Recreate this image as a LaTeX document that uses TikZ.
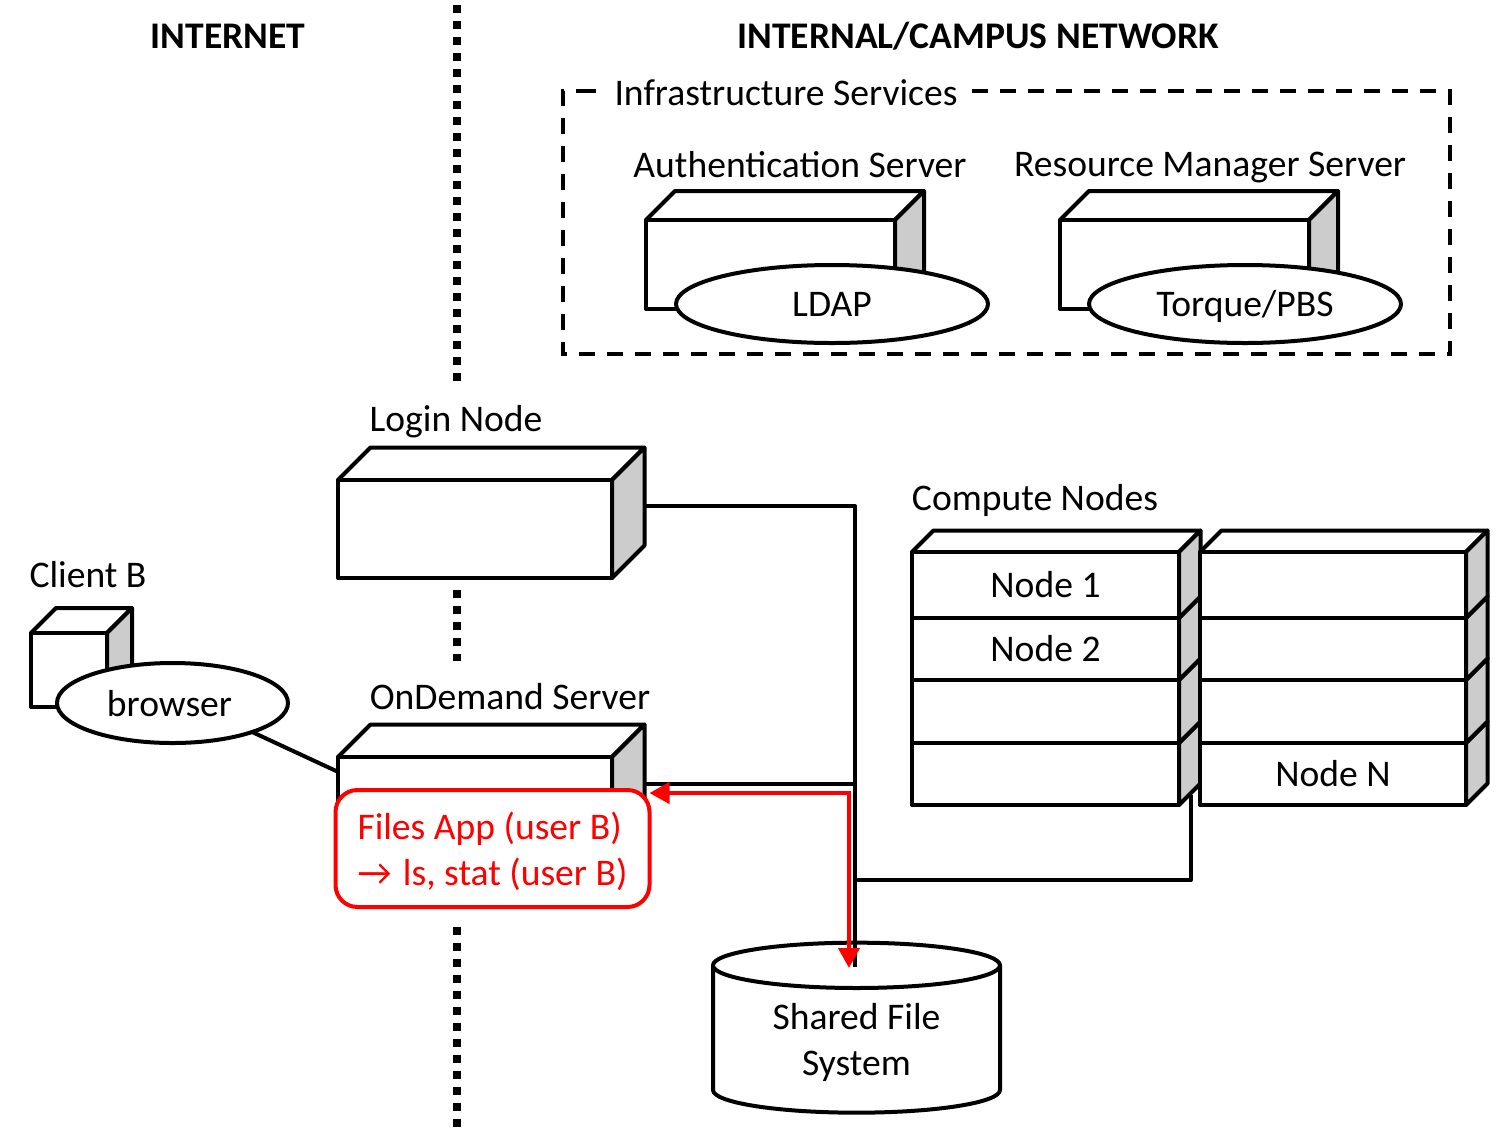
\documentclass[tikz,border=0pt]{standalone}
\usepackage{fontspec}
\setmainfont{Carlito}
\usetikzlibrary{calc,arrows.meta,shapes.geometric}
\definecolor{sidegray}{RGB}{204,204,204}
\tikzset{
  pic line/.style={line width=2pt, line join=round},
  front/.style={pic line, draw, fill=white, rectangle, inner sep=0pt, outer sep=0pt},
  service/.style={pic line, draw, fill=white, ellipse, inner sep=0pt, outer sep=0pt, minimum width=156pt, minimum height=39pt, text height=12.5pt, text depth=0pt},
  link/.style={pic line},
  boundary/.style={line width=4pt, dash pattern=on 4pt off 4pt},
  redbox/.style={line width=2pt, draw=red, fill=white, text=red, rounded corners=11pt, inner sep=0pt, outer sep=0pt, align=flush left},
  redlink/.style={line width=2pt, draw=red, {Triangle[length=10pt,width=10.5pt,fill=red]}-{Triangle[length=10pt,width=10.5pt,fill=red]}}
}
\newcommand{\serverbox}[7]{
  \draw[pic line, fill=white] (#2, #3) -- ++(#6, -#6) -- (#4 + #6, #3 - #6) -- (#4, #3) -- cycle ;
  \draw[pic line, fill=sidegray] (#4, #3) -- ++(#6, -#6) -- (#4 + #6, #5 - #6) -- (#4, #5) -- cycle ;
  \node[front, minimum width={(#4-#2)*0.5pt}, minimum height={(#5-#3)*0.5pt}] (#1) at ({(#2+#4)/2}, {(#3+#5)/2}) {#7} ;
}
\begin{document}
\begin{tikzpicture}[x=0.5pt, y=-0.5pt, font=\fontsize{18.8}{23}\selectfont]
    \useasboundingbox (0, 0) rectangle (1500, 1131) ;

    \coordinate (cutA) at (457, 5) ;
    \coordinate (cutB) at (457, 381) ;
    \coordinate (cutC) at (457, 590) ;
    \coordinate (cutD) at (457, 661) ;
    \coordinate (cutE) at (457, 927) ;
    \coordinate (cutF) at (457, 1127) ;
    \draw[boundary] (cutA) -- (cutB) ;
    \draw[boundary] (cutC) -- (cutD) ;
    \draw[boundary] (cutE) -- (cutF) ;

    \node[font=\fontsize{18.8}{23}\selectfont\bfseries] (internet) at (228, 36) {INTERNET} ;
    \node[font=\fontsize{18.8}{23}\selectfont\bfseries] (campus) at (978, 36) {INTERNAL/CAMPUS NETWORK} ;

    \draw[line width=2pt, dash pattern=on 8pt off 6pt] (580, 91) -- (1450, 91) -- (1450, 354) -- (563, 354) -- (563, 91) -- cycle ;
    \node[fill=white, inner sep=0pt, minimum width=186pt, minimum height=20pt] (infra) at (786, 93) {Infrastructure Services} ;

    \node (authtitle) at (800, 165) {Authentication Server} ;
    \node (rmtitle) at (1210, 168) {Resource Manager Server} ;
    \serverbox{auth}{646}{220}{895}{309}{29}{}
    \serverbox{rm}{1060}{220}{1309}{309}{29}{}
    \node[service] (ldap) at (832, 304) {LDAP} ;
    \node[service] (torque) at (1245, 304) {Torque/PBS} ;

    \node (logintitle) at (456, 422) {Login Node} ;
    \serverbox{login}{338}{480}{612}{578}{32.5}{}

    \node (clienttitle) at (88, 575) {Client B} ;
    \serverbox{client}{31}{633}{107}{707}{25}{}
    \node[service, minimum width=115.5pt, minimum height=40pt, text height=13pt] (browser) at (172.5, 703) {browser\kern3pt\null} ;

    \node (ondemandtitle) at (510, 697) {OnDemand Server} ;
    \serverbox{ondemand}{338}{757}{612}{855}{32.5}{}
    \draw[link] (browser.-20) -- (ondemand.166.5) ;

    \node (computetitle) at (1035, 500) {Compute Nodes} ;

    \coordinate (loginport) at (644, 506) ;
    \coordinate (loginturn) at (855, 506) ;
    \coordinate (busend) at (855, 967) ;
    \coordinate (ondemandport) at (644, 784) ;
    \coordinate (ondemandbus) at (855, 784) ;
    \coordinate (computebus) at (855, 880) ;
    \coordinate (computeturn) at (1191, 880) ;
    \coordinate (computeport) at (1191, 795) ;

    \draw[link] (computebus) -- (computeturn) -- (computeport) ;

    \foreach \rowname/\top/\bottom/\rowtext in {d/743/805/{}, c/680/743/{}, b/618/680/{Node 2}, a/552/618/{Node 1}} {
      \serverbox{left\rowname}{912}{\top}{1179}{\bottom}{21.5}{\rowtext}
    }
    \foreach \rowname/\top/\bottom/\rowtext in {d/743/805/{Node N}, c/680/743/{}, b/618/680/{}, a/552/618/{}} {
      \serverbox{right\rowname}{1200}{\top}{1466}{\bottom}{21.5}{\rowtext}
    }

    \node[cylinder, shape border rotate=90, aspect=0.27, pic line, draw, fill=white, inner sep=0pt, outer sep=0pt, minimum width=143.5pt, minimum height=85pt, align=center] (sharedfs) at (856.5, 1040) {\rule{0pt}{16pt}Shared File\\System} ;

    \draw[link] (loginport) -- (loginturn) -- (busend) ;
    \draw[link] (ondemandport) -- (ondemandbus) ;

    \node[redbox, minimum width=157pt, minimum height=58.5pt, text width=135pt] (files) at (492.5, 848.5) {\rule{0pt}{17pt}Files App (user B)\\→ \hspace{1.5pt}ls, stat (user B)} ;

    \coordinate (redturn) at (849, 793) ;
    \coordinate (redend) at (849, 968) ;
    \draw[redlink] ([yshift=-1.5pt]files.north east) -- (redturn) -- (redend) ;
\end{tikzpicture}
\end{document}
